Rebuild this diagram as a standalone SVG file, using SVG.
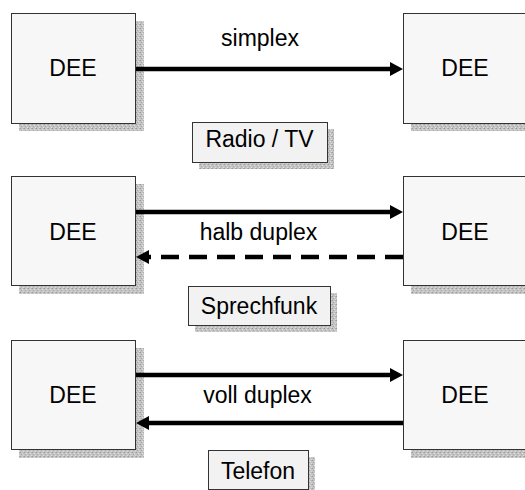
<svg xmlns="http://www.w3.org/2000/svg" width="525" height="490" viewBox="0 0 525 490">
<defs>
<pattern id="speckle" width="4" height="4" patternUnits="userSpaceOnUse">
<rect width="4" height="4" fill="#c4c4c4"/>
<rect x="0" y="0" width="1" height="1" fill="#9a9a9a"/>
<rect x="2" y="1" width="1" height="1" fill="#e0e0e0"/>
<rect x="1" y="2" width="1" height="1" fill="#a8a8a8"/>
<rect x="3" y="3" width="1" height="1" fill="#dcdcdc"/>
<rect x="3" y="0" width="1" height="1" fill="#b0b0b0"/>
</pattern>
<marker id="ah" viewBox="0 0 13 14" refX="5" refY="7" markerWidth="13" markerHeight="14" markerUnits="userSpaceOnUse" orient="auto">
<path d="M0,0 L13,7 L0,14 Z" fill="#000"/>
</marker>
<style>
.shadow{fill:url(#speckle);}
.box{fill:#f7f7f7;stroke:#333;stroke-width:1;}
.lbl{fill:#f2f2f2;stroke:#333;stroke-width:1;}
text{font-family:"Liberation Sans",Arial,sans-serif;font-size:23px;fill:#000;text-anchor:middle;}
.conn{stroke:#000;stroke-width:4.5;fill:none;marker-end:url(#ah);}
.dash{stroke-dasharray:18 10;}
</style>
</defs>
<rect width="525" height="490" fill="#fff"/>

<g id="dee-l1"><rect class="shadow" x="19" y="21" width="125" height="110"/><rect class="box" x="11.5" y="13.5" width="124" height="110"/><text x="73" y="76">DEE</text></g>
<g id="dee-r1"><rect class="shadow" x="411" y="21" width="125" height="110"/><rect class="box" x="403.5" y="13.5" width="124" height="110"/><text x="465" y="76">DEE</text></g>
<g id="simplex"><text x="260" y="46">simplex</text></g>
<g id="radio-tv"><rect class="shadow" x="199" y="129" width="135" height="40"/><rect class="lbl" x="192.5" y="122.5" width="135" height="40"/><text x="259.5" y="147">Radio / TV</text></g>

<g id="dee-l2"><rect class="shadow" x="19" y="184" width="125" height="110"/><rect class="box" x="11.5" y="176.5" width="124" height="109"/><text x="73" y="240">DEE</text></g>
<g id="dee-r2"><rect class="shadow" x="411" y="184" width="125" height="110"/><rect class="box" x="403.5" y="176.5" width="124" height="109"/><text x="465" y="240">DEE</text></g>
<g id="halb-duplex"><text x="258.5" y="240">halb duplex</text></g>
<g id="sprechfunk"><rect class="shadow" x="195" y="293" width="142" height="39"/><rect class="lbl" x="188.5" y="286.5" width="142" height="39"/><text x="259" y="314">Sprechfunk</text></g>

<g id="dee-l3"><rect class="shadow" x="19" y="348" width="125" height="110"/><rect class="box" x="11.5" y="340.5" width="124" height="109"/><text x="73" y="403">DEE</text></g>
<g id="dee-r3"><rect class="shadow" x="411" y="348" width="125" height="110"/><rect class="box" x="403.5" y="340.5" width="124" height="109"/><text x="465" y="403">DEE</text></g>
<g id="voll-duplex"><text x="257.5" y="403">voll duplex</text></g>
<g id="telefon"><rect class="shadow" x="215" y="457" width="100" height="40"/><rect class="lbl" x="208.5" y="450.5" width="100" height="39"/><text x="258" y="479">Telefon</text></g>

<g id="connectors">
<line class="conn" x1="136" y1="69" x2="395" y2="69"/>
<line class="conn" x1="136" y1="212" x2="395" y2="212"/>
<line class="conn dash" x1="403" y1="257" x2="144" y2="257"/>
<line class="conn" x1="136" y1="375" x2="395" y2="375"/>
<line class="conn" x1="403" y1="423" x2="144" y2="423"/>
</g>
</svg>
